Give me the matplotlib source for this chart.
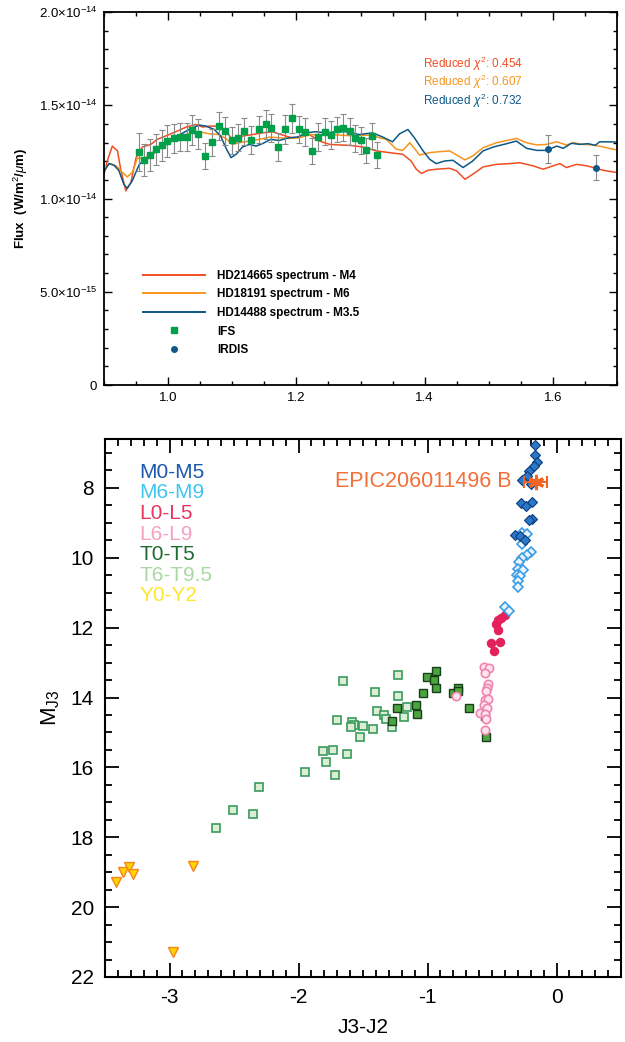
import matplotlib
matplotlib.use('Agg')
import matplotlib.pyplot as plt
from matplotlib.ticker import MultipleLocator, FuncFormatter
from matplotlib.lines import Line2D

plt.rcParams['font.family'] = ['Liberation Sans', 'DejaVu Sans']
plt.rcParams['mathtext.fontset'] = 'custom'
plt.rcParams['mathtext.rm'] = 'Liberation Sans'
plt.rcParams['mathtext.it'] = 'Liberation Sans:italic'
plt.rcParams['axes.unicode_minus'] = False

# ---- top panel: spectra (flux in units of 1e-14 W/m2/um) ----
RED_WAVE = [0.897, 0.905, 0.913, 0.921, 0.926, 0.934, 0.942, 0.950, 0.960, 0.973,
            0.983, 0.996, 1.012, 1.028, 1.043, 1.054, 1.064, 1.077, 1.088, 1.098,
            1.106, 1.116, 1.132, 1.147, 1.163, 1.176, 1.192, 1.205, 1.220, 1.236,
            1.252, 1.267, 1.283, 1.304, 1.325, 1.345, 1.366, 1.379, 1.387, 1.395,
            1.405, 1.418, 1.439, 1.450, 1.463, 1.475, 1.491, 1.512, 1.533, 1.548,
            1.569, 1.585, 1.600, 1.611, 1.621, 1.637, 1.653, 1.663, 1.679, 1.700]
RED_FLUX = [1.086, 1.201, 1.281, 1.255, 1.157, 1.041, 1.086, 1.219, 1.276, 1.290,
            1.317, 1.335, 1.358, 1.383, 1.397, 1.383, 1.388, 1.388, 1.370, 1.326,
            1.311, 1.335, 1.343, 1.352, 1.358, 1.343, 1.326, 1.329, 1.343, 1.308,
            1.290, 1.287, 1.285, 1.276, 1.255, 1.246, 1.237, 1.201, 1.157, 1.134,
            1.151, 1.157, 1.162, 1.148, 1.103, 1.130, 1.169, 1.183, 1.187, 1.192,
            1.175, 1.157, 1.175, 1.187, 1.166, 1.183, 1.175, 1.166, 1.151, 1.139]

ORANGE_WAVE = [0.897, 0.908, 0.919, 0.929, 0.936, 0.944, 0.952, 0.965, 0.976, 0.986,
               1.002, 1.017, 1.033, 1.048, 1.064, 1.079, 1.090, 1.100, 1.111, 1.127,
               1.142, 1.158, 1.173, 1.189, 1.205, 1.220, 1.236, 1.252, 1.267, 1.283,
               1.314, 1.340, 1.356, 1.366, 1.377, 1.384, 1.392, 1.408, 1.423, 1.439,
               1.450, 1.463, 1.475, 1.491, 1.512, 1.528, 1.543, 1.559, 1.575, 1.590,
               1.606, 1.621, 1.632, 1.647, 1.663, 1.679, 1.700]
ORANGE_FLUX = [1.144, 1.187, 1.175, 1.139, 1.116, 1.139, 1.215, 1.219, 1.246, 1.281,
               1.308, 1.335, 1.347, 1.358, 1.347, 1.343, 1.322, 1.290, 1.299, 1.308,
               1.317, 1.329, 1.326, 1.322, 1.326, 1.343, 1.340, 1.343, 1.340, 1.337,
               1.340, 1.317, 1.264, 1.258, 1.299, 1.269, 1.233, 1.246, 1.251, 1.255,
               1.233, 1.207, 1.228, 1.272, 1.299, 1.311, 1.322, 1.299, 1.287, 1.290,
               1.304, 1.287, 1.299, 1.290, 1.287, 1.276, 1.260]

BLUE_WAVE = [0.897, 0.908, 0.915, 0.923, 0.931, 0.936, 0.944, 0.955, 0.965, 0.976,
             0.986, 1.002, 1.017, 1.033, 1.048, 1.059, 1.072, 1.082, 1.090, 1.098,
             1.106, 1.116, 1.127, 1.137, 1.147, 1.160, 1.173, 1.189, 1.202, 1.215,
             1.230, 1.246, 1.262, 1.277, 1.298, 1.319, 1.335, 1.350, 1.361, 1.374,
             1.384, 1.397, 1.408, 1.418, 1.431, 1.444, 1.460, 1.475, 1.491, 1.507,
             1.528, 1.543, 1.559, 1.575, 1.590, 1.606, 1.616, 1.629, 1.642, 1.655,
             1.666, 1.673, 1.700]
BLUE_FLUX = [1.130, 1.187, 1.180, 1.151, 1.076, 1.055, 1.094, 1.183, 1.210, 1.237,
             1.269, 1.299, 1.340, 1.370, 1.394, 1.388, 1.370, 1.335, 1.272, 1.219,
             1.237, 1.276, 1.290, 1.281, 1.294, 1.317, 1.311, 1.326, 1.329, 1.352,
             1.358, 1.352, 1.358, 1.358, 1.343, 1.352, 1.329, 1.304, 1.347, 1.370,
             1.326, 1.258, 1.210, 1.187, 1.201, 1.205, 1.166, 1.201, 1.255, 1.276,
             1.294, 1.308, 1.269, 1.258, 1.258, 1.281, 1.269, 1.296, 1.290, 1.294,
             1.285, 1.304, 1.303]

IFS_WAVE = [0.955, 0.963, 0.971, 0.981, 0.990, 0.999, 1.009, 1.018, 1.029, 1.038,
            1.047, 1.058, 1.068, 1.079, 1.088, 1.099, 1.109, 1.119, 1.130, 1.141,
            1.152, 1.161, 1.172, 1.183, 1.193, 1.204, 1.214, 1.225, 1.233, 1.244,
            1.254, 1.263, 1.273, 1.283, 1.292, 1.300, 1.309, 1.318, 1.325]
IFS_FLUX = [1.249, 1.205, 1.233, 1.264, 1.285, 1.308, 1.322, 1.329, 1.329, 1.367,
            1.344, 1.228, 1.301, 1.388, 1.361, 1.312, 1.326, 1.361, 1.312, 1.370,
            1.397, 1.379, 1.276, 1.370, 1.429, 1.370, 1.358, 1.255, 1.329, 1.358,
            1.340, 1.370, 1.379, 1.361, 1.322, 1.312, 1.258, 1.335, 1.233]
IFS_ERR = [0.103, 0.085, 0.087, 0.084, 0.082, 0.085, 0.080, 0.077, 0.077, 0.079,
           0.080, 0.071, 0.071, 0.074, 0.076, 0.074, 0.073, 0.073, 0.076, 0.073,
           0.080, 0.075, 0.073, 0.077, 0.080, 0.074, 0.074, 0.071, 0.076, 0.071,
           0.076, 0.068, 0.073, 0.073, 0.073, 0.071, 0.068, 0.071, 0.068]

IRDIS_WAVE = [1.593, 1.668]
IRDIS_FLUX = [1.263, 1.166]
IRDIS_ERR = [0.075, 0.067]

MODEL_LABELS = ['HD214665 spectrum - M4', 'HD18191 spectrum - M6', 'HD14488 spectrum - M3.5']
CHI2 = [0.454, 0.607, 0.732]

C_RED = '#f04e23'
C_ORANGE = '#f7941d'
C_BLUE = '#0d5886'
C_GREEN = '#00a04a'

# ---- bottom panel: colour-magnitude diagram ----
M0M5_X = [-0.17, -0.163, -0.15, -0.178, -0.21, -0.23, -0.266, -0.20, -0.275, -0.24,
          -0.19, -0.19, -0.215, -0.32, -0.28, -0.245]
M0M5_Y = [6.78, 7.06, 7.27, 7.38, 7.53, 7.65, 7.78, 7.9, 8.43, 8.53,
          8.41, 8.89, 8.93, 9.36, 9.38, 9.5]
M6M9_X = [-0.266, -0.225, -0.266, -0.2, -0.23, -0.266, -0.29, -0.30, -0.256, -0.31,
          -0.28, -0.297, -0.30, -0.40, -0.37]
M6M9_Y = [9.3, 9.33, 9.61, 9.84, 9.92, 10.01, 10.13, 10.32, 10.35, 10.49,
          10.53, 10.67, 10.85, 11.42, 11.53]
L0L5_X = [-0.403, -0.43, -0.45, -0.467, -0.454, -0.506, -0.44, -0.488]
L0L5_Y = [11.64, 11.71, 11.78, 11.9, 12.06, 12.43, 12.41, 12.67]
L6L9_X = [-0.563, -0.527, -0.553, -0.532, -0.54, -0.545, -0.553, -0.53, -0.563, -0.537,
          -0.59, -0.558, -0.545, -0.558, -0.776]
L6L9_Y = [13.12, 13.15, 13.3, 13.62, 13.73, 13.81, 14.07, 14.05, 14.21, 14.3,
          14.43, 14.46, 14.62, 14.93, 13.96]
T0T5_X = [-0.934, -1.007, -0.947, -0.934, -1.035, -0.766, -0.80, -0.76, -1.088, -1.238,
          -1.085, -0.675, -1.277, -0.558, -0.545]
T0T5_Y = [13.23, 13.40, 13.49, 13.73, 13.87, 13.72, 13.86, 13.82, 14.21, 14.31,
          14.48, 14.31, 14.68, 14.52, 15.13]
T6T9_X = [-1.655, -1.227, -1.409, -1.23, -1.39, -1.336, -1.323, -1.162, -1.183, -1.274,
          -1.424, -1.502, -1.583, -1.57, -1.59, -1.523, -1.705, -1.73, -1.627, -1.81,
          -1.79, -1.946, -1.72, -2.31, -2.506, -2.35, -2.64]
T6T9_Y = [13.54, 13.35, 13.84, 13.95, 14.39, 14.49, 14.61, 14.27, 14.55, 14.85,
          14.91, 14.82, 14.70, 14.80, 14.84, 15.13, 14.65, 15.49, 15.62, 15.52,
          15.85, 16.14, 16.21, 16.56, 17.23, 17.34, 17.73]
Y0Y2_X = [-3.417, -3.364, -3.317, -3.286, -2.82, -2.975]
Y0Y2_Y = [19.27, 18.99, 18.85, 19.06, 18.83, 21.28]

TARGET_X, TARGET_Y, TARGET_XERR = -0.16, 7.82, 0.09
TARGET_NAME = 'EPIC206011496 B'

CLASS_LABELS = ['M0-M5', 'M6-M9', 'L0-L5', 'L6-L9', 'T0-T5', 'T6-T9.5', 'Y0-Y2']
CLASS_COLORS = ['#1c58ae', '#3ec6f0', '#e83560', '#f5a0c4', '#1f6a2e', '#a9d8a2', '#ffe62e']


def flux_fmt(v, pos):
    if abs(v) < 1e-9:
        return '0'
    val = v * 1e-14
    exp = int(f'{val:.1e}'.split('e')[1])
    mant = val / 10 ** exp
    return r'%.1f$\times$10$^{%d}$' % (mant, exp)


fig = plt.figure(figsize=(6.25, 10.42), dpi=100)

# ---------------- top panel ----------------
ax1 = fig.add_axes([0.1664, 0.6305, 0.8208, 0.358])
ax1.plot(RED_WAVE, RED_FLUX, color=C_RED, lw=1.1)
ax1.plot(ORANGE_WAVE, ORANGE_FLUX, color=C_ORANGE, lw=1.1)
ax1.plot(BLUE_WAVE, BLUE_FLUX, color=C_BLUE, lw=1.1)
ax1.errorbar(IFS_WAVE, IFS_FLUX, yerr=IFS_ERR, fmt='none', ecolor='#8a8a8a',
             elinewidth=0.8, capsize=2, capthick=0.8, zorder=3)
ax1.plot(IFS_WAVE, IFS_FLUX, 's', color=C_GREEN, ms=5, zorder=4)
ax1.errorbar(IRDIS_WAVE, IRDIS_FLUX, yerr=IRDIS_ERR, fmt='none', ecolor='#8a8a8a',
             elinewidth=0.8, capsize=2, capthick=0.8, zorder=3)
ax1.plot(IRDIS_WAVE, IRDIS_FLUX, 'o', color=C_BLUE, ms=4, zorder=4)

ax1.set_xlim(0.9, 1.7)
ax1.set_ylim(0, 2.0)
ax1.xaxis.set_major_locator(MultipleLocator(0.2))
ax1.xaxis.set_minor_locator(MultipleLocator(0.05))
ax1.yaxis.set_major_locator(MultipleLocator(0.5))
ax1.yaxis.set_minor_locator(MultipleLocator(0.1))
ax1.yaxis.set_major_formatter(FuncFormatter(flux_fmt))
ax1.tick_params(which='both', direction='in', top=True, right=True, labelsize=9.5, width=1.0)
ax1.tick_params(which='major', length=6, pad=5)
ax1.tick_params(which='minor', length=3)
for s in ax1.spines.values():
    s.set_linewidth(1.3)
ax1.set_ylabel(r'Flux  (W/m$^2$/$\mu$m)', fontsize=9.5, fontweight='bold', labelpad=6)

for i, (chi, col) in enumerate(zip(CHI2, [C_RED, C_ORANGE, C_BLUE])):
    ax1.text(0.622, 0.862 - i * 0.05, r'Reduced $\chi^2$: %.3f' % chi, color=col,
             fontsize=8.5, transform=ax1.transAxes, va='center')

handles = [Line2D([], [], color=C_RED, lw=1.4),
           Line2D([], [], color=C_ORANGE, lw=1.4),
           Line2D([], [], color=C_BLUE, lw=1.4),
           Line2D([], [], ls='none', marker='s', color=C_GREEN, ms=5),
           Line2D([], [], ls='none', marker='o', color=C_BLUE, ms=4)]
leg = ax1.legend(handles, MODEL_LABELS + ['IFS', 'IRDIS'], loc='upper left',
                 bbox_to_anchor=(0.064, 0.325), frameon=False, borderpad=0,
                 handlelength=5.3, handletextpad=1.0, labelspacing=0.56,
                 prop={'size': 8.5, 'weight': 'bold'})

# ---------------- bottom panel ----------------
ax2 = fig.add_axes([0.168, 0.0624, 0.8256, 0.5163])
ax2.plot(T6T9_X, T6T9_Y, 's', ms=6, mfc='#dcefd6', mec='#3b9a5c', mew=1.2)
ax2.plot(T0T5_X, T0T5_Y, 's', ms=6, mfc='#4da43e', mec='#163f1a', mew=1.0)
ax2.plot(L6L9_X, L6L9_Y, 'o', ms=6, mfc='#fde4ee', mec='#f083ac', mew=1.2)
ax2.plot(L0L5_X, L0L5_Y, 'o', ms=6, mfc='#e3225c', mec='#e3225c', mew=0.8)
ax2.plot(M6M9_X, M6M9_Y, 'D', ms=5.5, mfc='#eaf5ff', mec='#3c9ce4', mew=1.2)
ax2.plot(M0M5_X, M0M5_Y, 'D', ms=5.5, mfc='#2a78c8', mec='#0d3c7c', mew=0.8)
ax2.plot(Y0Y2_X, Y0Y2_Y, 'v', ms=7, mfc='#ffd400', mec='#f7841e', mew=1.0)
ax2.errorbar([TARGET_X], [TARGET_Y], xerr=[TARGET_XERR], fmt='none', ecolor='#f26522',
             elinewidth=1.5, capsize=4, capthick=1.5, zorder=5)
ax2.plot([TARGET_X], [TARGET_Y], marker=(6, 2, 0), ls='none', ms=11, mec='#f26522',
         mew=2.2, zorder=6)
ax2.plot([TARGET_X], [TARGET_Y], marker='o', ls='none', ms=5, color='#f26522', zorder=6)
ax2.text(TARGET_X - 0.19, TARGET_Y, TARGET_NAME, color='#f26f3a', fontsize=15.5,
         ha='right', va='center')

for i, (lab, col) in enumerate(zip(CLASS_LABELS, CLASS_COLORS)):
    ax2.text(0.066, 0.938 - i * 0.0382, lab, color=col, fontsize=15,
             transform=ax2.transAxes, va='center')

ax2.set_xlim(-3.5, 0.5)
ax2.set_ylim(22, 6.6)
ax2.xaxis.set_major_locator(MultipleLocator(1))
ax2.xaxis.set_minor_locator(MultipleLocator(0.1))
ax2.yaxis.set_major_locator(MultipleLocator(2))
ax2.yaxis.set_minor_locator(MultipleLocator(0.5))
ax2.tick_params(which='both', direction='in', top=True, right=True, labelsize=15, width=1.3)
ax2.tick_params(which='major', length=10, pad=8)
ax2.tick_params(which='minor', length=5)
for s in ax2.spines.values():
    s.set_linewidth(1.5)
ax2.set_xlabel('J3-J2', fontsize=15, labelpad=8)
ax2.set_ylabel(r'M$_{\rm J3}$', fontsize=16, labelpad=6)

fig.savefig('out.png', dpi=100)
